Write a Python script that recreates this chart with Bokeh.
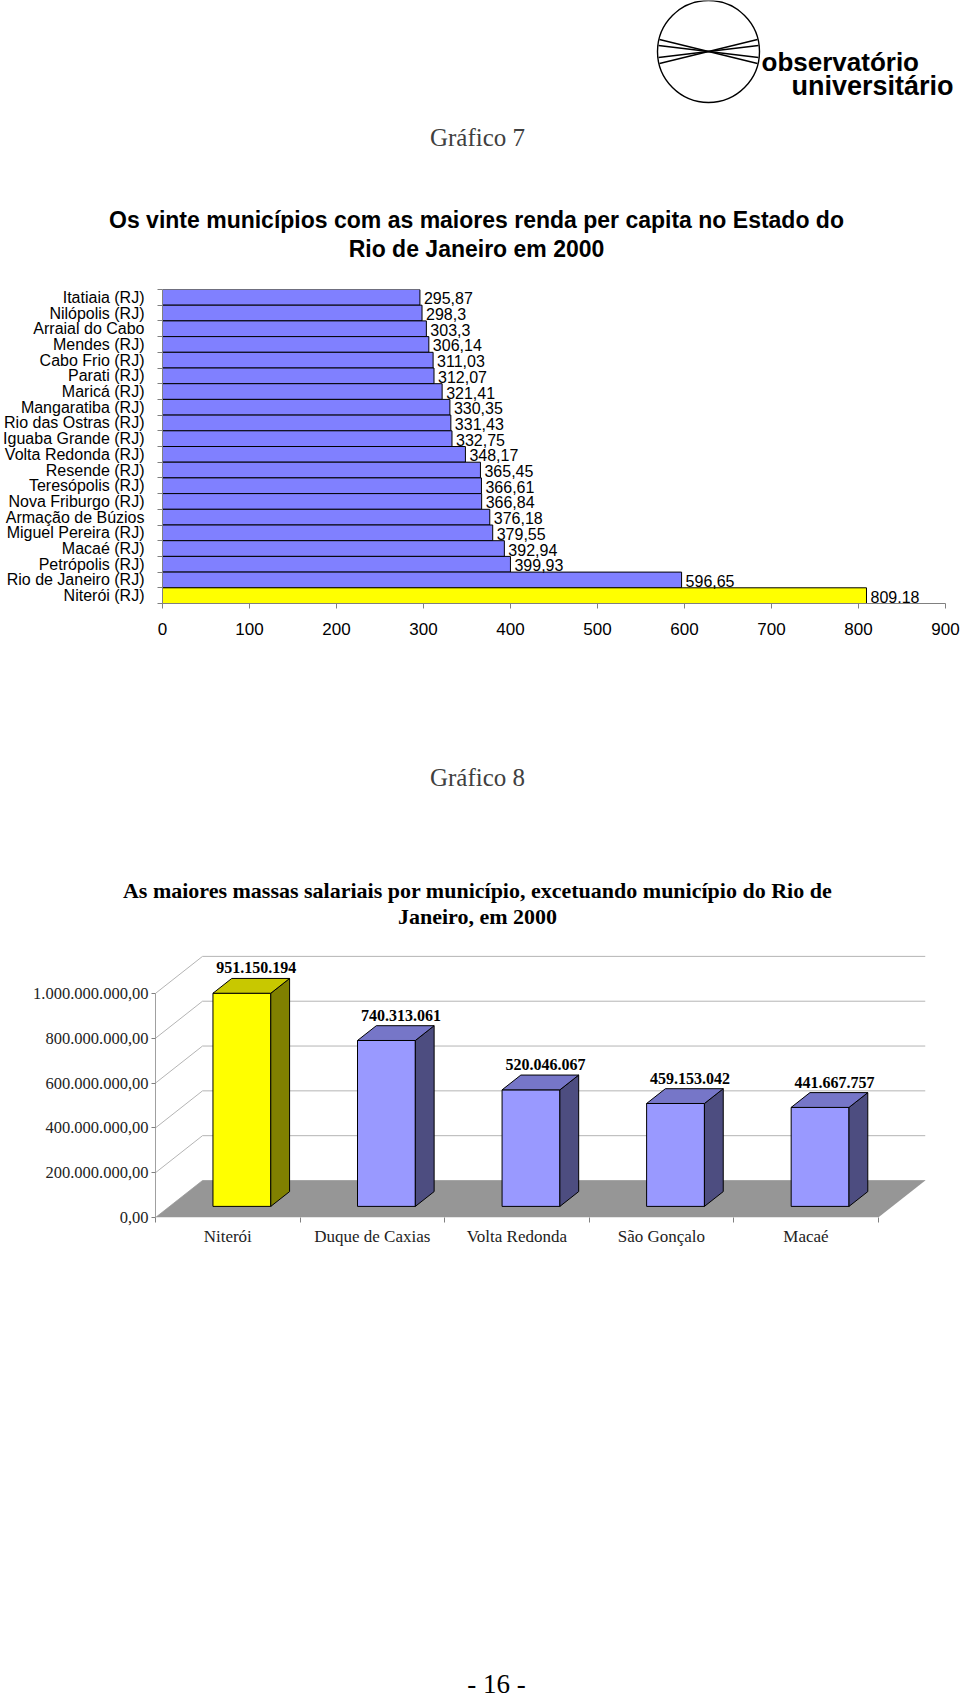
from bokeh.plotting import figure
from bokeh.layouts import column
from bokeh.models import Range1d, FixedTicker, ColumnDataSource, Label
from bokeh.core.properties import value
from bokeh.embed import file_html
from bokeh.resources import INLINE

# ---------------- data: Gráfico 7 ----------------
municipios = ["Itatiaia (RJ)", "Nilópolis (RJ)", "Arraial do Cabo", "Mendes (RJ)",
              "Cabo Frio (RJ)", "Parati (RJ)", "Maricá (RJ)", "Mangaratiba (RJ)",
              "Rio das Ostras (RJ)", "Iguaba Grande (RJ)", "Volta Redonda (RJ)",
              "Resende (RJ)", "Teresópolis (RJ)", "Nova Friburgo (RJ)",
              "Armação de Búzios", "Miguel Pereira (RJ)", "Macaé (RJ)",
              "Petrópolis (RJ)", "Rio de Janeiro (RJ)", "Niterói (RJ)"]
renda = [295.87, 298.3, 303.3, 306.14, 311.03, 312.07, 321.41, 330.35, 331.43,
         332.75, 348.17, 365.45, 366.61, 366.84, 376.18, 379.55, 392.94, 399.93,
         596.65, 809.18]
x_ticks1 = [0, 100, 200, 300, 400, 500, 600, 700, 800, 900]

# ---------------- data: Gráfico 8 ----------------
cidades = ["Niterói", "Duque de Caxias", "Volta Redonda", "São Gonçalo", "Macaé"]
massa = [951150194, 740313061, 520046067, 459153042, 441667757]
y_ticks2 = [0, 200e6, 400e6, 600e6, 800e6, 1000e6]
y_tick_labels2 = ["0,00", "200.000.000,00", "400.000.000,00", "600.000.000,00",
                  "800.000.000,00", "1.000.000.000,00"]

title7 = ["Os vinte municípios com as maiores renda per capita no Estado do",
          "Rio de Janeiro em 2000"]
title8 = ["As maiores massas salariais por município, excetuando município do Rio de",
          "Janeiro, em 2000"]

SANS = "Liberation Sans"
SERIF = "Liberation Serif"


def blank(h):
    p = figure(width=960, height=h, x_range=Range1d(0, 960), y_range=Range1d(h, 0),
               toolbar_location=None, output_backend="svg", min_border=0,
               x_axis_location=None, y_axis_location=None, frame_align=False)
    p.outline_line_color = None
    p.grid.visible = False
    p.background_fill_color = "white"
    p.border_fill_color = "white"
    return p


def lab(p, x, y, text, font, size, style="normal", color="black",
        align="center", baseline="middle"):
    p.add_layout(Label(x=x, y=y, text=text, text_font=font, text_font_size=size,
                       text_font_style=style, text_color=color, text_align=align,
                       text_baseline=baseline))


# ---------------- header 1 (logo + titles) ----------------
h1 = blank(262)
h1.circle(x=708, y=51, radius=51, fill_color=None, line_color="black", line_width=1.4)
h1.multi_line(xs=[[659, 757], [658, 758], [658, 758], [659, 757]],
              ys=[[39, 63], [45, 57], [57, 45], [63, 39]],
              line_color="black", line_width=1.3)
lab(h1, 761, 61, "observatório", SANS, "26px", "bold", align="left", baseline="alphabetic")
lab(h1, 791, 85, "universitário", SANS, "27px", "bold", align="left", baseline="alphabetic")
lab(h1, 477, 137, "Gráfico 7", SERIF, "25px", color="#404040")
lab(h1, 476, 219, title7[0], SANS, "23px", "bold")
lab(h1, 476, 248, title7[1], SANS, "23px", "bold")

# ---------------- chart 1 ----------------
n = len(municipios)
yc = [i + 0.5 for i in range(n)]
cores1 = ["#FFFF00" if m.startswith("Niterói") else "#8080FF" for m in municipios]
src1 = ColumnDataSource(dict(y=yc, v=renda, c=cores1,
                             lab=[("%g" % v).replace(".", ",") for v in renda]))
p1 = figure(width=960, height=418, x_range=Range1d(0, 900), y_range=Range1d(n, 0),
            toolbar_location=None, output_backend="svg", frame_align=False,
            min_border_left=158, min_border_right=15, min_border_top=27,
            min_border_bottom=77)
p1.outline_line_color = None
p1.grid.visible = False
p1.hbar(y="y", left=0, right="v", height=1.0, fill_color="c", line_color="black",
        line_width=1, source=src1)
p1.text(x="v", y="y", text="lab", x_offset=4, y_offset=1, text_align="left",
        text_baseline="middle", text_font=value(SANS), text_font_size="16px",
        text_color="black", source=src1)

xa = p1.xaxis[0]
xa.ticker = FixedTicker(ticks=x_ticks1)
xa.axis_line_color = "#808080"
xa.major_tick_line_color = "#808080"
xa.major_tick_out = 5
xa.major_tick_in = 0
xa.minor_tick_line_color = None
xa.major_label_standoff = 14
xa.major_label_text_font = SANS
xa.major_label_text_font_size = "17px"
xa.major_label_text_color = "black"

ya = p1.yaxis[0]
ya.ticker = FixedTicker(ticks=yc, minor_ticks=list(range(n + 1)))
ya.major_label_overrides = {yc[i]: municipios[i] for i in range(n)}
ya.axis_line_color = "#808080"
ya.major_tick_line_color = None
ya.major_tick_out = 0
ya.major_tick_in = 0
ya.minor_tick_line_color = "#808080"
ya.minor_tick_out = 5
ya.minor_tick_in = 0
ya.major_label_standoff = 13
ya.major_label_text_font = SANS
ya.major_label_text_font_size = "16px"
ya.major_label_text_color = "black"

# ---------------- header 2 ----------------
h2 = blank(260)
lab(h2, 477, 97, "Gráfico 8", SERIF, "25px", color="#404040")
lab(h2, 477, 210, title8[0], SERIF, "22px", "bold")
lab(h2, 477, 236, title8[1], SERIF, "22px", "bold")

# ---------------- chart 2 (pseudo-3D columns) ----------------
ncat = len(cidades)
BL2, BR2 = 155, 10
CAT_PX = 144.55                     # pixels per category
XMAX = (960 - BL2 - BR2) / CAT_PX
FH = 320 - 43
YMAX = 1236e6
DX = 47 / CAT_PX                    # depth offset in x data units
DY = 37 / (FH / YMAX)               # depth offset in y data units
p2 = figure(width=960, height=320, x_range=Range1d(0, XMAX), y_range=Range1d(0, YMAX),
            toolbar_location=None, output_backend="svg", frame_align=False,
            min_border_left=BL2, min_border_right=BR2, min_border_top=0,
            min_border_bottom=43)
p2.outline_line_color = None
p2.grid.visible = False

# gridlines on side & back walls
gx, gy = [], []
for t in y_ticks2:
    gx.append([0, DX, ncat + DX])
    gy.append([t, t + DY, t + DY])
p2.multi_line(xs=gx, ys=gy, line_color="#b4b4b4", line_width=1)

# floor
p2.patch(x=[0, ncat, ncat + DX, DX], y=[0, 0, DY, DY], fill_color="#969696",
         line_color=None)

# bars
W = 0.4
F0 = 0.3
BD = 0.4
fx, fr, fb, ft, fc = [], [], [], [], []
sxs, sys_, sc = [], [], []
txs, tys, tc = [], [], []
lx, ly, lt = [], [], []
for i, (nome, v) in enumerate(zip(cidades, massa)):
    c = i + 0.5 + F0 * DX
    y0 = F0 * DY
    bx, by = BD * DX, BD * DY
    yel = nome == "Niterói"
    fx.append(c - W / 2); fr.append(c + W / 2); fb.append(y0); ft.append(y0 + v)
    fc.append("#FFFF00" if yel else "#9999FF")
    sxs.append([c + W / 2, c + W / 2 + bx, c + W / 2 + bx, c + W / 2])
    sys_.append([y0, y0 + by, y0 + v + by, y0 + v])
    sc.append("#808000" if yel else "#4D4D80")
    txs.append([c - W / 2, c + W / 2, c + W / 2 + bx, c - W / 2 + bx])
    tys.append([y0 + v, y0 + v, y0 + v + by, y0 + v + by])
    tc.append("#C8C800" if yel else "#7676C8")
    lx.append(c + 0.1)
    ly.append(y0 + v + by)
    lt.append(f"{v:,}".replace(",", "."))

p2.quad(left=fx, right=fr, bottom=fb, top=ft, fill_color=fc, line_color="black",
        line_width=1)
p2.patches(xs=sxs, ys=sys_, fill_color=sc, line_color="black", line_width=1)
p2.patches(xs=txs, ys=tys, fill_color=tc, line_color="black", line_width=1)
p2.text(x=lx, y=ly, text=lt, y_offset=-5, text_align="center",
        text_baseline="bottom", text_font=value(SERIF), text_font_style="bold",
        text_font_size="16px", text_color="black")

ya2 = p2.yaxis[0]
ya2.ticker = FixedTicker(ticks=y_ticks2)
ya2.major_label_overrides = dict(zip(y_ticks2, y_tick_labels2))
ya2.bounds = (0, 1000e6)
ya2.axis_line_color = "#a0a0a0"
ya2.major_tick_line_color = "#808080"
ya2.major_tick_out = 4
ya2.major_tick_in = 0
ya2.minor_tick_line_color = None
ya2.major_label_standoff = 3
ya2.major_label_text_font = SERIF
ya2.major_label_text_font_size = "16.5px"
ya2.major_label_text_color = "#222222"

xc2 = [i + 0.5 for i in range(ncat)]
xa2 = p2.xaxis[0]
xa2.ticker = FixedTicker(ticks=xc2, minor_ticks=list(range(ncat + 1)))
xa2.major_label_overrides = dict(zip(xc2, cidades))
xa2.axis_line_color = None
xa2.major_tick_line_color = None
xa2.major_tick_out = 0
xa2.major_tick_in = 0
xa2.minor_tick_line_color = "#808080"
xa2.minor_tick_out = 5
xa2.minor_tick_in = 0
xa2.major_label_standoff = 4
xa2.major_label_text_font = SERIF
xa2.major_label_text_font_size = "17px"
xa2.major_label_text_color = "#222222"

# ---------------- footer ----------------
f1 = blank(438)
lab(f1, 496, 423, "- 16 -", SERIF, "27px")

layout = column(h1, p1, h2, p2, f1, spacing=0)
open("out.html", "w").write(file_html(layout, INLINE))
